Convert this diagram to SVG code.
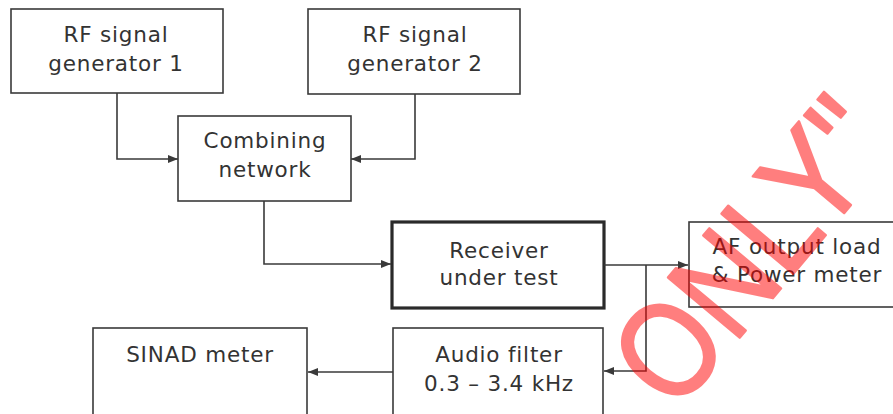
<svg xmlns="http://www.w3.org/2000/svg" width="893" height="414" viewBox="0 0 893 414">
<defs>
<style>
.box{fill:#fff;stroke:#3a3a3a;stroke-width:1.6}
.thick{fill:#fff;stroke:#2a2a2a;stroke-width:3.2}
.lbl{font-family:"DejaVu Sans",Verdana,sans-serif;font-size:21.5px;letter-spacing:0.8px;fill:#333;text-anchor:middle}
.conn{fill:none;stroke:#3a3a3a;stroke-width:1.6}
.wm{font-family:"Liberation Sans",Arial,sans-serif;font-size:136px;fill:#ff0000;stroke:#ff0000;stroke-width:2.5;stroke-linejoin:round}
</style>
<marker id="arr" viewBox="0 0 10 8" refX="10" refY="4" markerWidth="10" markerHeight="8" markerUnits="userSpaceOnUse" orient="auto">
<path d="M0,0 L10,4 L0,8 Z" fill="#3a3a3a"/>
</marker>
</defs>
<rect width="893" height="414" fill="#fff"/>
<g id="gen1"><rect class="box" x="11" y="9" width="212" height="84"/><text class="lbl" x="116" y="42">RF signal</text><text class="lbl" x="116" y="71">generator 1</text></g>
<g id="gen2"><rect class="box" x="308" y="9" width="212" height="85"/><text class="lbl" x="415" y="42">RF signal</text><text class="lbl" x="415" y="71">generator 2</text></g>
<g id="combiner"><rect class="box" x="178" y="116" width="173" height="85"/><text class="lbl" x="265" y="148">Combining</text><text class="lbl" x="265" y="177">network</text></g>
<g id="receiver"><rect class="thick" x="392" y="222" width="212" height="86"/><text class="lbl" x="499" y="258">Receiver</text><text class="lbl" x="499" y="285">under test</text></g>
<g id="afload"><rect class="box" x="689" y="222" width="220" height="85"/><text class="lbl" x="797" y="254">AF output load</text><text class="lbl" x="797" y="282">&amp; Power meter</text></g>
<g id="filter"><rect class="box" x="393" y="328" width="210" height="100"/><text class="lbl" x="499" y="362">Audio filter</text><text class="lbl" x="499" y="391">0.3 – 3.4 kHz</text></g>
<g id="sinad"><rect class="box" x="93" y="328" width="214" height="100"/><text class="lbl" x="200" y="362">SINAD meter</text></g>
<g id="connectors">
<path class="conn" d="M117,93 V159 H178" marker-end="url(#arr)"/>
<path class="conn" d="M415,94 V159 H351" marker-end="url(#arr)"/>
<path class="conn" d="M264,201 V264 H391" marker-end="url(#arr)"/>
<path class="conn" d="M604,265 H688" marker-end="url(#arr)"/>
<path class="conn" d="M646,265 V371 H604" marker-end="url(#arr)"/>
<path class="conn" d="M393,372 H308" marker-end="url(#arr)"/>
</g>
<g id="watermark" opacity="0.5"><text class="wm" transform="translate(675.6,414) rotate(-50) scale(0.85,1)">ONLY"</text></g>
</svg>
